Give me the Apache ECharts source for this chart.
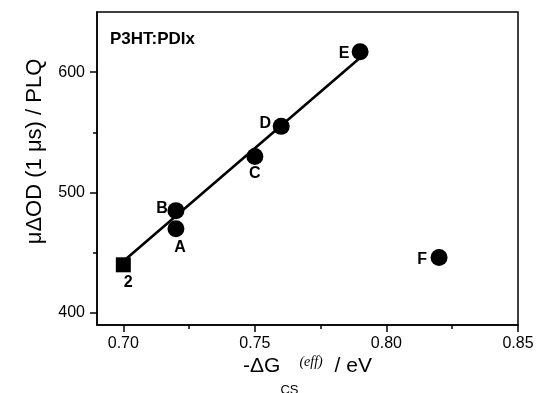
<!DOCTYPE html>
<html>
<head>
<meta charset="utf-8">
<script src="https://cdn.jsdelivr.net/npm/echarts@6/dist/echarts.min.js"></script>
<style>html,body{margin:0;padding:0;background:#fff}#c{width:538px;height:393px}</style>
</head>
<body>
<div id="c"></div>
<script>
// ---- data ----
const pointNames = ['2', 'A', 'B', 'C', 'D', 'E', 'F'];
const pointX = [0.70, 0.72, 0.72, 0.75, 0.76, 0.79, 0.82];
const pointY = [440, 470, 485, 530, 555, 617, 446];
const fitX = [0.70, 0.79];
const fitY = [443, 612];
const xTicks = [0.70, 0.75, 0.80, 0.85];
const xMinorTicks = [0.725, 0.775, 0.825];
const yTicks = [400, 500, 600];
const yMinorTicks = [450, 550];
const panelLabel = 'P3HT:PDIx';

// ---- styles (label offsets in px) ----
const labelOffsets = {'2': [5, 18], 'A': [4, 19], 'B': [-14, -2], 'C': [0, 17], 'D': [-16, -3], 'E': [-16, 2], 'F': [-17, 2]};
const FONT = 'Liberation Sans, Arial, Helvetica, sans-serif';

const circleData = [];
const squareData = [];
pointNames.forEach((n, i) => {
  const item = {
    name: n,
    value: [pointX[i], pointY[i]],
    label: {show: true, position: 'inside', offset: labelOffsets[n], formatter: n}
  };
  if (n === '2') squareData.push(item); else circleData.push(item);
});

const labelStyle = {color: '#000', opacity: 1, fontFamily: FONT, fontWeight: 'bold', fontSize: 16};

const chart = echarts.init(document.getElementById('c'), null, {renderer: 'canvas'});
chart.setOption({
  animation: false,
  backgroundColor: '#fff',
  title: {
    text: panelLabel, left: 110, top: 31, padding: 0,
    textStyle: {fontFamily: FONT, fontWeight: 'bold', fontSize: 17, color: '#000'}
  },
  grid: {left: 97, right: 20, top: 12, bottom: 68, containLabel: false, outerBoundsMode: 'none',
         show: true, borderColor: '#000', borderWidth: 1.5, backgroundColor: 'transparent'},
  xAxis: [{
    type: 'value', min: 0.69, max: 0.85,
    axisLine: {show: true, onZero: false, lineStyle: {color: '#000', width: 1.5}},
    axisTick: {show: true, inside: false, length: 7, customValues: xTicks, lineStyle: {color: '#000', width: 1.5}},
    axisLabel: {show: true, customValues: xTicks, margin: 11, formatter: v => v.toFixed(2), color: '#000', fontFamily: FONT, fontSize: 16},
    splitLine: {show: false},
    name: '-ΔG{sub|CS}{sup|(eff)} / eV',
    nameLocation: 'middle', nameGap: 10, nameMoveOverlap: false,
    nameTextStyle: {
      color: '#000', fontFamily: FONT, fontSize: 21, lineHeight: 62,
      rich: {
        sub: {fontFamily: FONT, fontSize: 13, lineHeight: 12, verticalAlign: 'bottom', color: '#000'},
        sup: {fontFamily: 'Liberation Serif, Times New Roman, serif', fontStyle: 'italic', fontSize: 14, lineHeight: 16, color: '#000', padding: [0, 6, 7, 1]}
      }
    }
  }, {
    type: 'value', min: 0.69, max: 0.85, position: 'bottom',
    axisLine: {show: false},
    axisTick: {show: true, inside: false, length: 4, customValues: xMinorTicks, lineStyle: {color: '#000', width: 1.5}},
    axisLabel: {show: false},
    splitLine: {show: false}
  }],
  yAxis: [{
    type: 'value', min: 390, max: 650,
    axisLine: {show: true, onZero: false, lineStyle: {color: '#000', width: 1.5}},
    axisTick: {show: true, inside: false, length: 7, customValues: yTicks, lineStyle: {color: '#000', width: 1.5}},
    axisLabel: {show: true, customValues: yTicks, margin: 12, color: '#000', fontFamily: FONT, fontSize: 16},
    splitLine: {show: false},
    name: 'μΔOD (1 μs) / PLQ',
    nameLocation: 'middle', nameGap: 51, nameRotate: 90, nameMoveOverlap: false,
    nameTextStyle: {color: '#000', fontFamily: FONT, fontSize: 22, padding: [0, 0, 0, 34]}
  }, {
    type: 'value', min: 390, max: 650, position: 'left',
    axisLine: {show: false},
    axisTick: {show: true, inside: false, length: 4, customValues: yMinorTicks, lineStyle: {color: '#000', width: 1.5}},
    axisLabel: {show: false},
    splitLine: {show: false}
  }],
  series: [{
    type: 'line', name: 'fit', xAxisIndex: 0, yAxisIndex: 0,
    data: fitX.map((x, i) => [x, fitY[i]]),
    symbol: 'none', lineStyle: {color: '#000', width: 2.6}, z: 1, silent: true
  }, {
    type: 'scatter', name: 'PDI', xAxisIndex: 0, yAxisIndex: 0,
    data: circleData, symbol: 'circle', symbolSize: 17,
    itemStyle: {color: '#000', opacity: 1}, label: labelStyle, z: 3
  }, {
    type: 'scatter', name: 'ref', xAxisIndex: 0, yAxisIndex: 0,
    data: squareData, symbol: 'rect', symbolSize: 15,
    itemStyle: {color: '#000', opacity: 1}, label: labelStyle, z: 3
  }]
});
</script>
</body>
</html>
